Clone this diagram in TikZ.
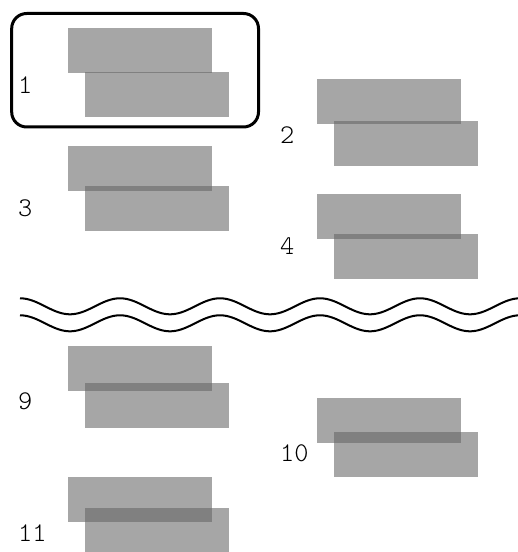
\documentclass[tikz,border=0pt]{standalone}
\usetikzlibrary{positioning}
\tikzset{
  slab/.style={fill=black!61,fill opacity=0.57,minimum width=144pt,
    minimum height=45pt,inner sep=0pt,outer sep=0pt},
  num/.style={anchor=west,inner sep=0pt,
    font=\ttfamily\fontseries{l}\fontsize{27}{31}\selectfont},
  wave/.style={line width=2pt,domain=20:518,samples=250,smooth}
}
\begin{document}
\begin{tikzpicture}[x=1pt,y=1pt]
      \useasboundingbox (0,0) rectangle (518,552);
      % step 1, boxed
      \node [slab] (up1) at (140,501.5) {};
      \node [slab,below=-1.3pt of up1,xshift=17pt] (low1) {};
      \node [num] (lab1) at (18,466.5) {1};
      \draw [line width=3pt,rounded corners=15pt] (11.7,425) rectangle (258.5,538.5);
      \node [slab] (up2) at (389,450.8) {};
      \node [slab,below=-2.3pt of up2,xshift=17pt] (low2) {};
      \node [num] (lab2) at (280,417) {2};
      \node [slab] (up3) at (140,383.8) {};
      \node [slab,below=-4.3pt of up3,xshift=17pt] (low3) {};
      \node [num] (lab3) at (18,344) {3};
      \node [slab] (up4) at (389,335.5) {};
      \node [slab,below=-5.3pt of up4,xshift=17pt] (low4) {};
      \node [num] (lab4) at (280,305.5) {4};
      % break
      \draw [wave] plot (\x,{245.7+8*cos(3.6*(\x-20))});
      \draw [wave] plot (\x,{228.7+8*cos(3.6*(\x-20))});
      \node [slab] (up9) at (140,183.5) {};
      \node [slab,below=-7.7pt of up9,xshift=17pt] (low9) {};
      \node [num] (lab9) at (18,151) {9};
      \node [slab] (up10) at (389,131.8) {};
      \node [slab,below=-10.6pt of up10,xshift=17pt] (low10) {};
      \node [num] (lab10) at (280,99) {10};
      \node [slab] (up11) at (140,52.5) {};
      \node [slab,below=-13.7pt of up11,xshift=17pt] (low11) {};
      \node [num] (lab11) at (18,19) {11};
\end{tikzpicture}
\end{document}
